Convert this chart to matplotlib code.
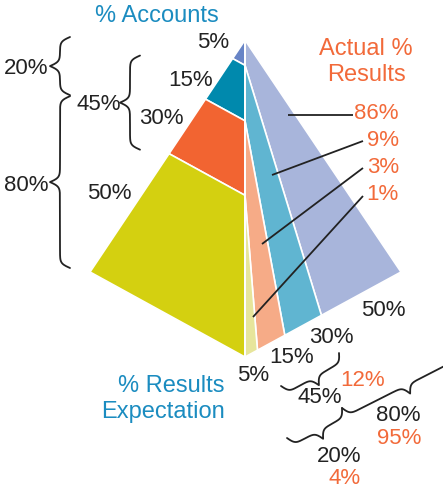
import numpy as np
import matplotlib
matplotlib.use("Agg")
import matplotlib.pyplot as plt
from matplotlib.patches import Polygon

# ---------------- data ----------------
accounts_labels = ["5%", "15%", "30%", "50%"]          # left face, top -> bottom
accounts = [5, 15, 30, 50]
expect_labels = ["5%", "15%", "30%", "50%"]            # right face, front -> back
expectation = [5, 15, 30, 50]
actual_labels = ["86%", "9%", "3%", "1%"]              # right face strips, back -> front
actual = [86, 9, 3, 1]
left_groups = [("20%", 0, 2), ("45%", 1, 3), ("80%", 2, 4)]   # accounts groups (start, end band)
bottom_groups = [("45%", "12%"), ("80%", "95%"), ("20%", "4%")]

# ---------------- style ----------------
left_colors = ["#6784c6", "#0089ad", "#f26431", "#d4d010"]
right_colors = ["#a8b5db", "#60b5d1", "#f6ab87", "#e7e59b"]   # back -> front
ORANGE = "#f26a3a"
BLUE = "#1b8cc0"
DARK = "#222222"
FONT = "Liberation Sans"
FS = 16

fig = plt.figure(figsize=(4.43, 4.90), dpi=100)
ax = fig.add_axes([0, 0, 1, 1])
ax.set_xlim(0, 443)
ax.set_ylim(490, 0)
ax.axis("off")

# pyramid geometry (pixels)
A = np.array([245.0, 40.0])   # apex
L = np.array([90.0, 272.0])   # left corner
F = np.array([245.0, 357.0])  # front corner
R = np.array([401.0, 272.0])  # right corner

# visual edge scale (small bands enlarged, as in the original)
SCALE_IN = [0, 0.05, 0.2, 0.5, 1.0]
SCALE_OUT = [0, 0.08, 0.255, 0.49, 1.0]
def f(c):
    return float(np.interp(c, SCALE_IN, SCALE_OUT))

cum_acc = np.cumsum(accounts) / 100.0
cum_exp = np.cumsum(expectation) / 100.0

def ctr(t):
    return A + f(t) * (F - A)
def lft(t):
    return A + f(t) * (L - A)
def bot(s):
    return F + f(s) * (R - F)

# left face bands
bounds = [0.0] + list(cum_acc)
for i, col in enumerate(left_colors):
    t0, t1 = bounds[i], bounds[i + 1]
    if i == 0:
        pts = [A, lft(t1), ctr(t1)]
    else:
        pts = [lft(t0), lft(t1), ctr(t1), ctr(t0)]
        if t1 >= 1.0:
            pts = [lft(t0), L, F, ctr(t0)]
    ax.add_patch(Polygon(pts, closed=True, facecolor=col, edgecolor="white", lw=1.2, joinstyle="miter"))

# right face strips (back -> front)
cb = [0.0] + list(cum_acc[:3])          # centre boundaries from apex
eb = [1.0] + list(cum_exp[:3][::-1])   # bottom boundaries from front: 1, .5, .2, .05
for i, col in enumerate(right_colors):
    if i == 0:
        pts = [A, R, bot(eb[1]), ctr(cb[1])]
    elif i < 3:
        pts = [ctr(cb[i]), bot(eb[i]), bot(eb[i + 1]), ctr(cb[i + 1])]
    else:
        pts = [ctr(cb[3]), bot(eb[3]), F]
    ax.add_patch(Polygon(pts, closed=True, facecolor=col, edgecolor="white", lw=1.2, joinstyle="miter"))

# centre white ridge
ax.plot([A[0], F[0]], [A[1], F[1]], color="white", lw=1.4)

def txt(x, y, s, color=DARK, ha="center", fs=FS):
    ax.text(x, y, s, color=color, ha=ha, va="center", fontsize=fs, family=[FONT, "DejaVu Sans"])

# titles
txt(157, 16, "% Accounts", BLUE, fs=FS + 1)
txt(366, 49, "Actual %", ORANGE, fs=FS + 1)
txt(367, 75, "Results", ORANGE, fs=FS + 1)
txt(225, 386, "% Results", BLUE, ha="right", fs=FS + 1)
txt(225, 412, "Expectation", BLUE, ha="right", fs=FS + 1)

# left band labels
acc_pos = [(213, 43), (191, 80), (161, 118), (109, 193)]
for (x, y), s in zip(acc_pos, accounts_labels):
    txt(x, y, s)

# bottom labels
exp_pos = [(253, 375), (292, 357), (331, 337), (383, 310)]
for (x, y), s in zip(exp_pos, expect_labels):
    txt(x, y, s)

# actual labels + leader lines
act_y = [113, 140, 167, 194]
anchors = [(288, 115), (272, 175), (262, 244), (253, 317)]
ends = [(353, 115), (363, 141), (363, 168), (363, 196)]
for s, y, a, e in zip(actual_labels, act_y, anchors, ends):
    txt(399, y, s, ORANGE, ha="right")
    ax.plot([a[0], e[0]], [a[1], e[1]], color=DARK, lw=1.3, solid_capstyle="butt")

# curly braces
def brace(p1, p2, depth, beta=0.45, lw=1.3):
    p1 = np.asarray(p1, float); p2 = np.asarray(p2, float)
    d = p2 - p1
    Ln = np.hypot(*d)
    u = d / Ln
    n = np.array([u[1], -u[0]])   # perpendicular
    res = 401
    x = np.linspace(0, Ln, res)
    half = x[: res // 2 + 1]
    yh = (1 / (1 + np.exp(-beta * (half - half[0]))) + 1 / (1 + np.exp(-beta * (half - half[-1]))))
    y = np.concatenate((yh, yh[-2::-1]))
    y = (y - 0.5) * depth
    pts = p1[None, :] + x[:, None] * u[None, :] + y[:, None] * n[None, :]
    ax.plot(pts[:, 0], pts[:, 1], color=DARK, lw=lw, solid_capstyle="round")

# left braces (tip pointing left)
left_brace_x = [70, 140, 70]
left_label_pos = [(26, 68), (99, 104), (26, 185)]
lb = [0.0] + list(cum_acc)
for (lab, i0, i1), xe, (tx, ty) in zip(left_groups, left_brace_x, left_label_pos):
    y0 = lft(lb[i0])[1] - 3
    y1 = lft(lb[i1])[1] - 4
    brace((xe, y1), (xe, y0), 20)
    txt(tx, ty, lab)

# bottom braces (tip pointing away from the pyramid)
bottom_brace_ends = [((339, 353), (281, 386)), ((462, 347), (342, 408)), ((342, 408), (287, 438))]
bottom_label_pos = [((320, 397), (363, 380)), ((421, 415), (421, 438)), ((361, 456), (361, 478))]
for (lab, lab2), (p1, p2), ((x1, y1), (x2, y2)) in zip(bottom_groups, bottom_brace_ends, bottom_label_pos):
    brace(p1, p2, 18)
    if lab == "45%":
        txt(x1, y1, lab)
        txt(x2, y2, lab2, ORANGE)
    else:
        txt(x1, y1, lab, ha="right")
        txt(x2, y2, lab2, ORANGE, ha="right")

fig.savefig("out.png", dpi=100)
